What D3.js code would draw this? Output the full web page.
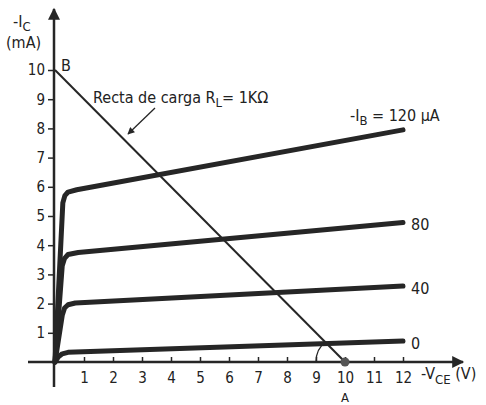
<!DOCTYPE html>
<html>
<head>
<meta charset="utf-8">
<script src="https://cdn.jsdelivr.net/npm/d3@7"></script>
<style>
  body { margin: 0; background: #fff; }
  svg text { font-family: "Liberation Sans Narrow", "DejaVu Sans Condensed", "Liberation Sans", sans-serif; fill: #222; }
</style>
</head>
<body>
<div id="chart"></div>
<script>

// values (V_CE in V, I_C in mA)
var xTicks = [1, 2, 3, 4, 5, 6, 7, 8, 9, 10, 11, 12];
var yTicks = [1, 2, 3, 4, 5, 6, 7, 8, 9, 10];
var ibLabels = ["0", "40", "80"];

var ib0 = [[0, 0], [0.12, 0.18], [0.25, 0.28], [0.45, 0.33], [12, 0.72]];
var ib40 = [[0, 0], [0.25, 1.6], [0.33, 1.85], [0.45, 1.96], [0.7, 2.02], [12, 2.6]];
var ib80 = [[0, 0], [0.25, 3.3], [0.33, 3.55], [0.45, 3.68], [0.8, 3.75], [12, 4.78]];
var ib120 = [[0, 0], [0.27, 5.45], [0.34, 5.7], [0.45, 5.82], [0.75, 5.9], [12, 7.95]];

var loadLine = [[0, 10], [10, 0]];

var width = 486, height = 405;
var ink = "#262626";

var svg = d3.select("#chart").append("svg")
    .attr("width", width)
    .attr("height", height);

var xScale = d3.scaleLinear().domain([0, 12]).range([55, 403]);
var yScale = d3.scaleLinear().domain([0, 10]).range([362, 70]);

// arrow markers
var defs = svg.append("defs");
defs.append("marker")
    .attr("id", "axisArrow")
    .attr("viewBox", "0 0 10 10")
    .attr("refX", 9).attr("refY", 5)
    .attr("markerWidth", 8).attr("markerHeight", 7)
    .attr("markerUnits", "userSpaceOnUse")
    .attr("orient", "auto")
    .append("path")
    .attr("d", "M0,0 L10,5 L0,10 Z")
    .attr("fill", ink);
defs.append("marker")
    .attr("id", "bigArrow")
    .attr("viewBox", "0 0 10 10")
    .attr("refX", 9).attr("refY", 5)
    .attr("markerWidth", 20).attr("markerHeight", 12)
    .attr("markerUnits", "userSpaceOnUse")
    .attr("orient", "auto")
    .append("path")
    .attr("d", "M0,0 L10,5 L0,10 Z")
    .attr("fill", ink);

// axis lines
svg.append("line")
    .attr("x1", 28).attr("y1", yScale(0))
    .attr("x2", 463).attr("y2", yScale(0))
    .attr("stroke", ink).attr("stroke-width", 2.5)
    .attr("marker-end", "url(#bigArrow)");
svg.append("line")
    .attr("x1", xScale(0) - 1).attr("y1", 387)
    .attr("x2", xScale(0) - 1).attr("y2", 9)
    .attr("stroke", ink).attr("stroke-width", 2.5)
    .attr("marker-end", "url(#bigArrow)");

// ticks
var xAxis = d3.axisBottom(xScale).tickValues(xTicks).tickSizeInner(-5).tickSizeOuter(0).tickPadding(10);
var gx = svg.append("g").attr("transform", "translate(0," + yScale(0) + ")").call(xAxis);
gx.select(".domain").remove();
gx.selectAll("line").attr("stroke", ink).attr("stroke-width", 1.5);
gx.selectAll("text").attr("font-size", 15).attr("fill", ink);

var yAxis = d3.axisLeft(yScale).tickValues(yTicks).tickSize(6).tickPadding(3);
var gy = svg.append("g").attr("transform", "translate(" + (xScale(0) - 1) + ",0)").call(yAxis);
gy.select(".domain").remove();
gy.selectAll("line").attr("stroke", ink).attr("stroke-width", 1.5);
gy.selectAll("text").attr("font-size", 15).attr("fill", ink);

// characteristic curves
var curveLine = d3.line()
    .x(d => xScale(d[0]))
    .y(d => yScale(d[1]));

[ib0, ib40, ib80, ib120].forEach(function (s) {
    svg.append("path")
        .attr("d", curveLine(s))
        .attr("fill", "none")
        .attr("stroke", ink)
        .attr("stroke-width", 5)
        .attr("stroke-linecap", "round")
        .attr("stroke-linejoin", "round");
});

// curve labels
[ib0, ib40, ib80].forEach(function (s, i) {
    var last = s[s.length - 1];
    svg.append("text")
        .attr("x", xScale(last[0]) + 8)
        .attr("y", yScale(last[1]) + 2)
        .attr("dy", "0.35em")
        .attr("font-size", 16)
        .text(ibLabels[i]);
});

var ibText = svg.append("text")
    .attr("x", 350).attr("y", 121)
    .attr("font-size", 16);
ibText.append("tspan").text("-I");
ibText.append("tspan").attr("dy", 4).attr("font-size", 13).text("B");
ibText.append("tspan").attr("dy", -4).text(" = 120 \u00b5A");

// load line
svg.append("path")
    .attr("d", d3.line().x(d => xScale(d[0])).y(d => yScale(d[1]))(loadLine))
    .attr("fill", "none")
    .attr("stroke", ink)
    .attr("stroke-width", 2);

svg.append("circle")
    .attr("cx", xScale(10)).attr("cy", yScale(0))
    .attr("r", 4.5)
    .attr("fill", "#555");

// small arc near the crossing with I_B = 0
svg.append("path")
    .attr("d", "M" + xScale(9.35) + "," + yScale(0.7) + " Q" + xScale(9.0) + "," + yScale(0.45) + " " + xScale(9.0) + "," + yScale(0))
    .attr("fill", "none")
    .attr("stroke", ink)
    .attr("stroke-width", 1.3);

// annotation arrow
svg.append("line")
    .attr("x1", 155).attr("y1", 108)
    .attr("x2", 128).attr("y2", 134)
    .attr("stroke", ink).attr("stroke-width", 1.3)
    .attr("marker-end", "url(#axisArrow)");

var loadText = svg.append("text")
    .attr("x", 93).attr("y", 103)
    .attr("font-size", 16);
loadText.append("tspan").text("Recta de carga R");
loadText.append("tspan").attr("dy", 4).attr("font-size", 13).text("L");
loadText.append("tspan").attr("dy", -4).text("= 1K\u03a9");

// axis titles and points
var yTitle = svg.append("text").attr("x", 13).attr("y", 27).attr("font-size", 16);
yTitle.append("tspan").text("-I");
yTitle.append("tspan").attr("dy", 4).attr("font-size", 13).text("C");
svg.append("text").attr("x", 6).attr("y", 48).attr("font-size", 16).text("(mA)");

var xTitle = svg.append("text").attr("x", 421).attr("y", 379).attr("font-size", 16);
xTitle.append("tspan").text("-V");
xTitle.append("tspan").attr("dy", 5).attr("font-size", 13).text("CE");
xTitle.append("tspan").attr("dy", -5).text(" (V)");

svg.append("text").attr("x", 61).attr("y", 71).attr("font-size", 16).text("B");
svg.append("text").attr("x", xScale(10)).attr("y", 402).attr("text-anchor", "middle").attr("font-size", 13).text("A");

</script>
</body>
</html>
